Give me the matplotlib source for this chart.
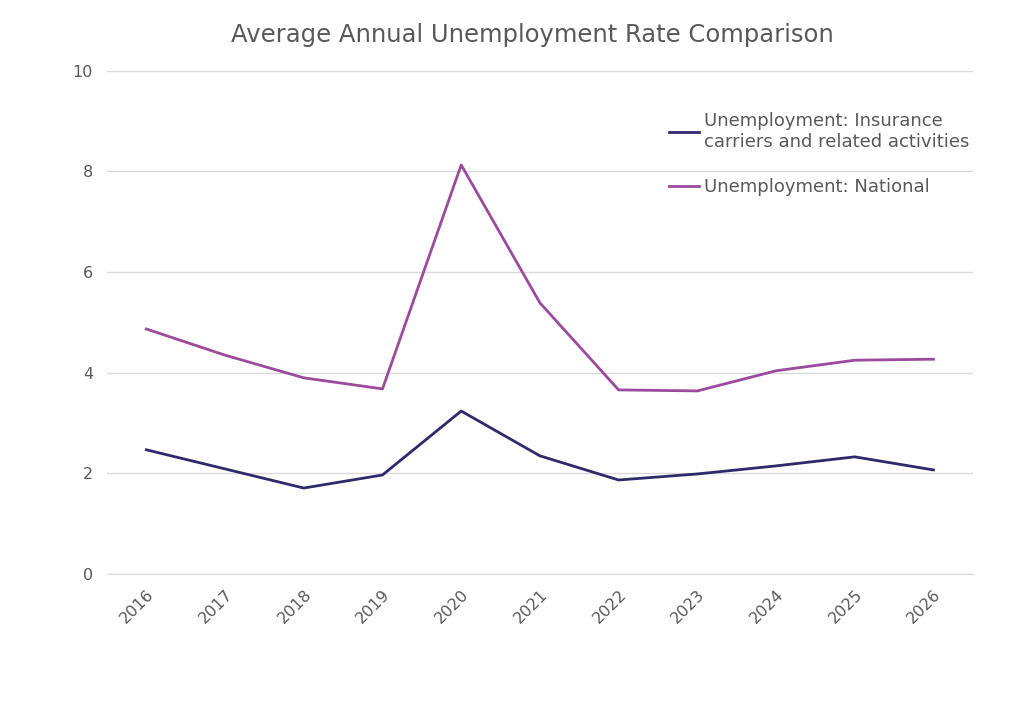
import matplotlib.pyplot as plt

years = ["2016", "2017", "2018", "2019", "2020", "2021", "2022", "2023", "2024", "2025", "2026"]
insurance = [2.47, 2.09, 1.71, 1.97, 3.24, 2.35, 1.87, 1.99, 2.15, 2.33, 2.07]
national = [4.87, 4.35, 3.90, 3.68, 8.13, 5.39, 3.66, 3.64, 4.04, 4.25, 4.27]

text_color = '#595959'
grid_color = '#d9d9d9'

fig = plt.figure(figsize=(10.24, 7.01), dpi=100)
ax = fig.add_axes([0.1045, 0.181, 0.8455, 0.718])

x = range(len(years))
ax.plot(x, insurance, color='#2e2a6b', linewidth=2, label="Unemployment: Insurance\ncarriers and related activities")
ax.plot(x, national, color='#9b4a9e', linewidth=2, label="Unemployment: National")

ax.set_xlim(-0.5, len(years) - 0.5)
ax.set_ylim(0, 10)
ax.set_yticks([0, 2, 4, 6, 8, 10])
ax.set_xticks(list(x))
ax.set_xticklabels(years, rotation=45, ha='right', rotation_mode='anchor')

ax.grid(axis='y', color=grid_color, linewidth=1)
ax.set_axisbelow(True)
for side in ['top', 'right', 'left']:
    ax.spines[side].set_visible(False)
ax.spines['bottom'].set_color(grid_color)
ax.tick_params(axis='both', length=0, colors=text_color, labelsize=11.5)
ax.tick_params(axis='y', pad=10)
ax.tick_params(axis='x', pad=9)

ax.set_title("Average Annual Unemployment Rate Comparison", color=text_color, fontsize=17.5, pad=21, x=0.491)

leg = ax.legend(loc='upper left', bbox_to_anchor=(0.63, 0.95), frameon=False, fontsize=13,
                handlelength=1.7, handletextpad=0.25, labelspacing=1.5)
for t in leg.get_texts():
    t.set_color(text_color)

plt.savefig("out.png", dpi=100)
